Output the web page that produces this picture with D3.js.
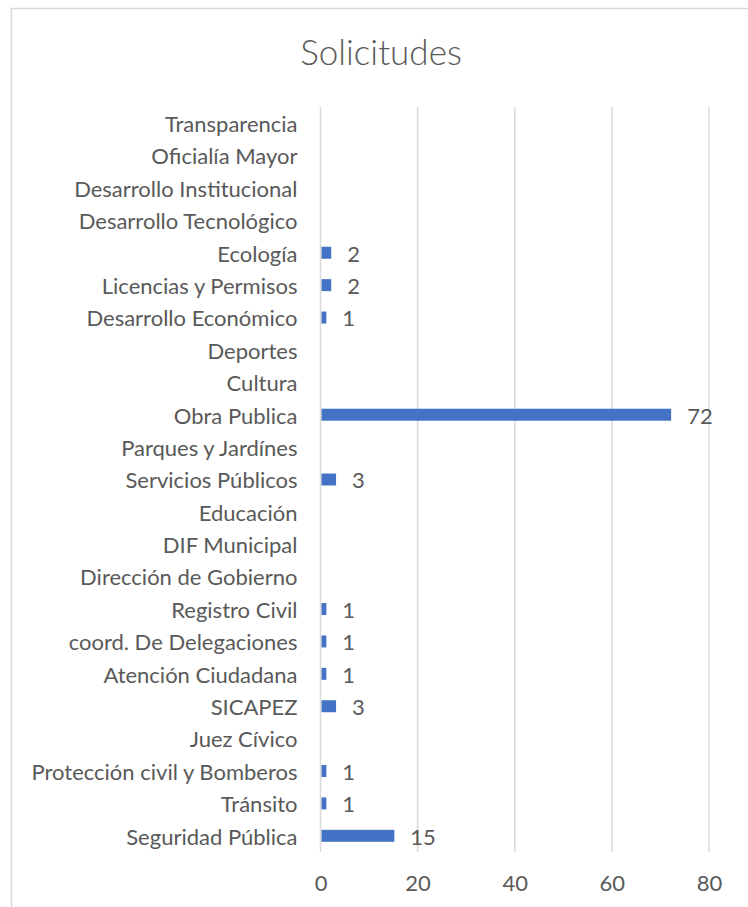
<!DOCTYPE html>
<html>
<head>
<meta charset="utf-8">
<script src="https://cdn.jsdelivr.net/npm/d3@7"></script>
<style>
  html, body { margin: 0; padding: 0; background: #fff; }
  svg { display: block; }
</style>
</head>
<body>
<div id="chart"></div>
<script>
// categories listed top to bottom, as they appear in the chart
const categories = [
    'Transparencia', 'Oficialía Mayor', 'Desarrollo Institucional', 'Desarrollo Tecnológico',
    'Ecología', 'Licencias y Permisos', 'Desarrollo Económico', 'Deportes', 'Cultura',
    'Obra Publica', 'Parques y Jardínes', 'Servicios Públicos', 'Educación', 'DIF Municipal',
    'Dirección de Gobierno', 'Registro Civil', 'coord. De Delegaciones', 'Atención Ciudadana',
    'SICAPEZ', 'Juez Cívico', 'Protección civil y Bomberos', 'Tránsito', 'Seguridad Pública'
];
// null = no value shown
const solicitudes = [
    null, null, null, null,
    2, 2, 1, null, null,
    72, null, 3, null, null,
    null, 1, 1, 1,
    3, null, 1, 1, 15
];
const xTicks = [ 0, 20, 40, 60, 80 ];
const chartTitle = 'Solicitudes';

const width = 748, height = 907;
const margin = { top: 107, right: 39, bottom: 55, left: 320.5 };
const innerWidth = width - margin.left - margin.right;
const innerHeight = height - margin.top - margin.bottom;
const textColor = '#595959';
const gridColor = '#d9d9d9';
const font = 'Lato, "Open Sans", sans-serif';

const data = categories.map( ( c, i ) => ( { name: c, value: solicitudes[ i ] } ) );

const svg = d3.select( '#chart' ).append( 'svg' )
    .attr( 'width', width )
    .attr( 'height', height )
    .style( 'font-family', font );

// outer chart frame (right and bottom edges fall outside the picture)
svg.append( 'rect' )
    .attr( 'x', 11.5 ).attr( 'y', 8.5 )
    .attr( 'width', width ).attr( 'height', height )
    .attr( 'fill', 'none' )
    .attr( 'stroke', gridColor )
    .attr( 'stroke-width', 1.5 );

svg.append( 'text' )
    .attr( 'x', 381 ).attr( 'y', 65 )
    .attr( 'text-anchor', 'middle' )
    .attr( 'fill', textColor )
    .style( 'font-size', '35px' )
    .style( 'font-weight', 300 )
    .text( chartTitle );

const chart = svg.append( 'g' )
    .attr( 'transform', `translate(${ margin.left }, ${ margin.top })` );

const xScale = d3.scaleLinear()
    .domain( [ 0, 80 ] )
    .range( [ 0, innerWidth ] );

const yScale = d3.scaleBand()
    .domain( categories )
    .range( [ 0, innerHeight ] )
    .paddingInner( 0.63 )
    .paddingOuter( 0.315 );

// vertical gridlines
chart.append( 'g' )
    .attr( 'class', 'grid' )
    .selectAll( 'line' )
    .data( xTicks )
    .enter()
    .append( 'line' )
    .attr( 'x1', d => xScale( d ) ).attr( 'x2', d => xScale( d ) )
    .attr( 'y1', 0 ).attr( 'y2', innerHeight )
    .attr( 'stroke', gridColor )
    .attr( 'stroke-width', 1.5 );

// x axis labels
const xAxis = d3.axisBottom( xScale )
    .tickValues( xTicks )
    .tickSize( 0 )
    .tickPadding( 23 );

const xG = chart.append( 'g' )
    .attr( 'transform', `translate(0, ${ innerHeight })` )
    .call( xAxis );
xG.select( '.domain' ).remove();
xG.selectAll( 'text' )
    .attr( 'fill', textColor )
    .style( 'font-size', '22px' )
    .style( 'font-family', font );

// y axis labels
const yAxis = d3.axisLeft( yScale )
    .tickSize( 0 )
    .tickPadding( 23 );

const yG = chart.append( 'g' )
    .call( yAxis );
yG.select( '.domain' ).remove();
yG.selectAll( 'text' )
    .attr( 'fill', textColor )
    .attr( 'dy', '0.4em' )
    .style( 'font-size', '22px' )
    .style( 'font-family', font );

const withValue = data.filter( d => d.value != null );

chart.selectAll( '.bar' )
    .data( withValue )
    .enter()
    .append( 'rect' )
    .attr( 'class', 'bar' )
    .attr( 'x', xScale( 0 ) + 1 )
    .attr( 'y', d => yScale( d.name ) )
    .attr( 'width', d => xScale( d.value ) - xScale( 0 ) )
    .attr( 'height', yScale.bandwidth() )
    .attr( 'fill', '#4472c4' );

chart.selectAll( '.value' )
    .data( withValue )
    .enter()
    .append( 'text' )
    .attr( 'class', 'value' )
    .attr( 'x', d => xScale( d.value ) + 17 )
    .attr( 'y', d => yScale( d.name ) + yScale.bandwidth() / 2 )
    .attr( 'dy', '0.4em' )
    .attr( 'fill', textColor )
    .style( 'font-size', '22px' )
    .text( d => d.value );
</script>
</body>
</html>
